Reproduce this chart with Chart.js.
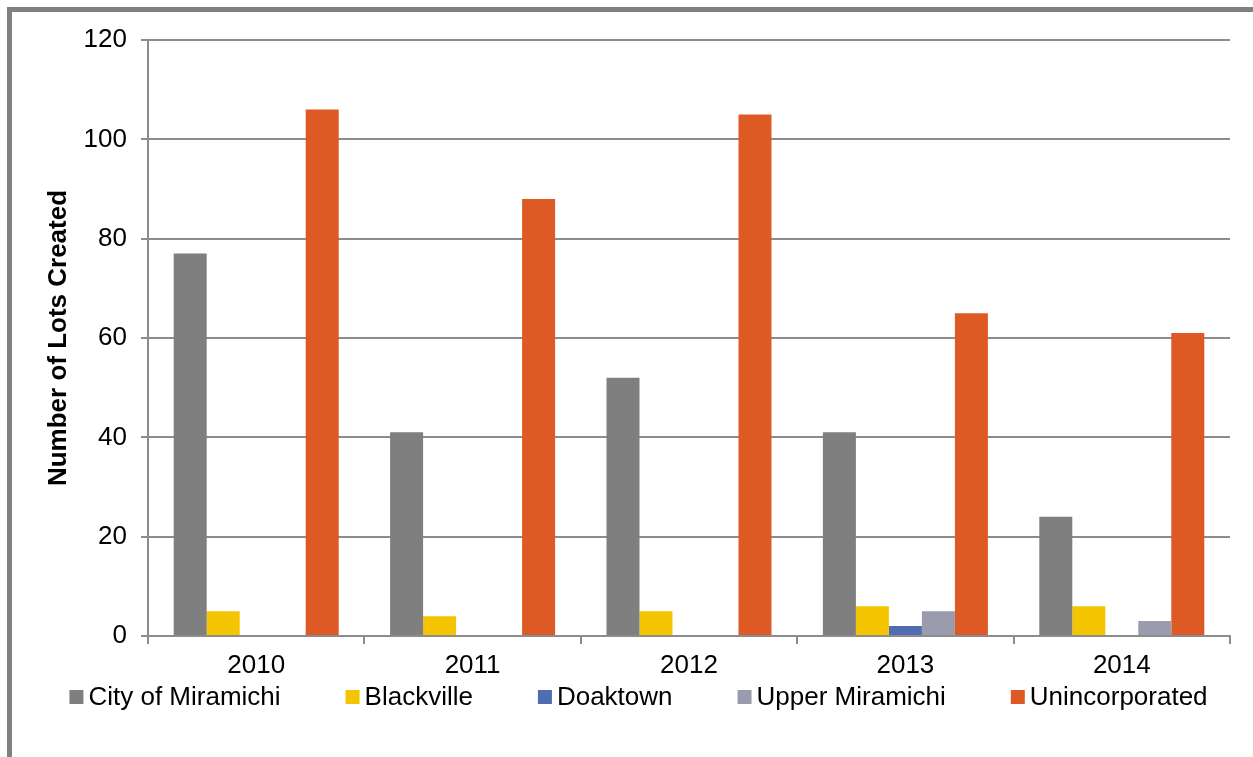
<!DOCTYPE html>
<html>
<head>
<meta charset="utf-8">
<script src="https://cdn.jsdelivr.net/npm/chart.js@4.4.1/dist/chart.umd.min.js"></script>
<style>
  html, body { margin:0; padding:0; background:#ffffff; }
  body { width:1253px; height:757px; position:relative; overflow:hidden; }
  #frame { position:absolute; left:7px; top:7px; width:1400px; height:900px;
           border-left:5px solid #808080; border-top:5px solid #808080; box-sizing:border-box; }
  #wrap { position:absolute; left:0; top:0; width:1253px; height:757px; }
</style>
</head>
<body>
<div id="frame"></div>
<div id="wrap"><canvas id="c" width="1253" height="757"></canvas></div>
<script>
const years = ['2010', '2011', '2012', '2013', '2014'];
const seriesNames = ['City of Miramichi', 'Blackville', 'Doaktown', 'Upper Miramichi', 'Unincorporated'];
const cityOfMiramichi = [77, 41, 52, 41, 24];
const blackville = [5, 4, 5, 6, 6];
const doaktown = [0, 0, 0, 2, 0];
const upperMiramichi = [0, 0, 0, 5, 3];
const unincorporated = [106, 88, 105, 65, 61];
const yTicks = [0, 20, 40, 60, 80, 100, 120];
const seriesColors = ['#7f7f7f', '#f5c400', '#506db4', '#9a9bad', '#dd5a24'];

const FONT = '"Liberation Sans", Arial, sans-serif';
const GRID = '#8c8c8c';

const legendPlugin = {
  id: 'excelLegend',
  afterDraw(chart) {
    const ctx = chart.ctx;
    ctx.save();
    ctx.font = '26px ' + FONT;
    const box = 14, gap = 5, spacing = 65;
    const items = chart.data.datasets.map(d => ({ label: d.label, color: d.backgroundColor, w: ctx.measureText(d.label).width }));
    const total = items.reduce((s, it) => s + box + gap + it.w, 0) + spacing * (items.length - 1);
    let x = 638.5 - total / 2;
    const yc = 697;
    ctx.textBaseline = 'middle';
    ctx.textAlign = 'left';
    items.forEach(it => {
      ctx.fillStyle = it.color;
      ctx.fillRect(x, yc - box / 2, box, box);
      ctx.fillStyle = '#000000';
      ctx.fillText(it.label, x + box + gap, yc + 1);
      x += box + gap + it.w + spacing;
    });
    ctx.restore();
  }
};

const seriesData = [cityOfMiramichi, blackville, doaktown, upperMiramichi, unincorporated];

new Chart(document.getElementById('c'), {
  type: 'bar',
  data: {
    labels: years,
    datasets: seriesNames.map((n, i) => ({
      label: n,
      data: seriesData[i],
      backgroundColor: seriesColors[i],
      borderWidth: 0,
      categoryPercentage: 0.7625,
      barPercentage: 1.0
    }))
  },
  options: {
    responsive: false,
    animation: false,
    devicePixelRatio: 1,
    layout: { padding: { left: 0, right: 23, top: 40, bottom: 0 } },
    plugins: {
      legend: { display: false },
      tooltip: { enabled: false }
    },
    scales: {
      x: {
        offset: true,
        grid: { display: true, offset: true, drawOnChartArea: false, drawTicks: true, tickLength: 8, color: GRID, lineWidth: 2 },
        border: { display: true, color: GRID, width: 2 },
        ticks: { color: '#000000', font: { family: FONT, size: 26 }, padding: 6, maxRotation: 0 },
        afterFit(s) { s.height = 121; }
      },
      y: {
        min: 0, max: 120,
        afterBuildTicks(s) { s.ticks = yTicks.map(v => ({ value: v })); },
        grid: { color: GRID, lineWidth: 2, drawTicks: true, tickLength: 7 },
        border: { display: true, color: GRID, width: 2 },
        ticks: { color: '#000000', font: { family: FONT, size: 26 }, padding: 14 },
        title: { display: true, text: 'Number of Lots Created', color: '#000000', font: { family: FONT, size: 26, weight: 'bold' }, padding: { top: 43, bottom: 0 } },
        afterFit(s) { s.width = 148; }
      }
    }
  },
  plugins: [legendPlugin]
});
</script>
</body>
</html>
